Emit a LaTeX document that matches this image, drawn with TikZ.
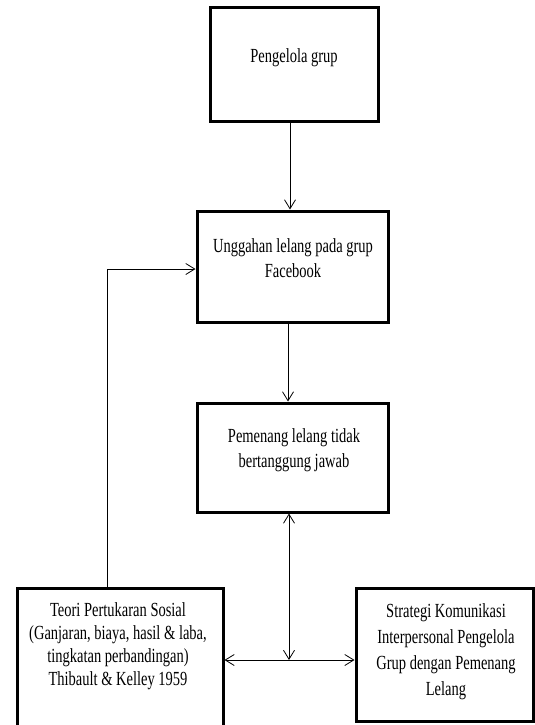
\documentclass[tikz,border=0pt]{standalone}
\usepackage{fontspec}
\setmainfont{Liberation Serif}[FakeStretch=0.725]
\usetikzlibrary{arrows.meta}
\begin{document}
\begin{tikzpicture}[x=1pt,y=-1pt,
  box/.style={draw, line width=3pt, inner sep=0pt},
  lbl/.style={align=center, inner sep=0pt, anchor=base},
  arr/.style={line width=0.8pt, -{Straight Barb[length=9pt,width=11pt]}},
  darr/.style={line width=0.8pt, {Straight Barb[length=9pt,width=11pt]}-{Straight Barb[length=9pt,width=11pt]}},
]
\useasboundingbox (0,0) rectangle (535,725);
\node[box, minimum width=168pt, minimum height=113pt] (b1) at (294,64.5) {};
\node[box, minimum width=191pt, minimum height=111pt] (b2) at (292.5,266.5) {};
\node[box, minimum width=191pt, minimum height=109pt] (b3) at (292.5,457.5) {};
\node[box, minimum width=206pt, minimum height=142pt] (b4) at (120,659) {};
\node[box, minimum width=177pt, minimum height=133pt] (b5) at (444.5,654.5) {};

\node[lbl, font=\fontsize{20}{25}\selectfont] (t1) at (294,63) {Pengelola grup};
\node[lbl, font=\fontsize{20}{25}\selectfont] (t2) at (293,277) {Unggahan lelang pada grup\\Facebook};
\node[lbl, font=\fontsize{20}{25}\selectfont] (t3) at (294,467) {Pemenang lelang tidak\\bertanggung jawab};
\node[lbl, font=\fontsize{20}{23}\selectfont] (t4) at (118,685) {Teori Pertukaran Sosial\\(Ganjaran, biaya, hasil \& laba,\\tingkatan perbandingan)\\Thibault \& Kelley 1959};
\node[lbl, font=\fontsize{20}{26}\selectfont] (t5) at (446,695) {Strategi Komunikasi\\Interpersonal Pengelola\\Grup dengan Pemenang\\Lelang};

\coordinate (x1) at (290,0);
\coordinate (x2) at (288,0);
\coordinate (j) at (289,660);
\coordinate (fb) at (107,269);

\draw[arr] (b1.south -| x1) -- (b2.north -| x1);
\draw[arr] (b2.south -| x2) -- (b3.north -| x2);
\draw[darr] (b3.south -| j) -- (j);
\draw[darr] (b4.east |- j) -- (b5.west |- j);
\draw[arr] (b4.north -| fb) -- (fb) -- (b2.west |- fb);
\end{tikzpicture}
\end{document}
